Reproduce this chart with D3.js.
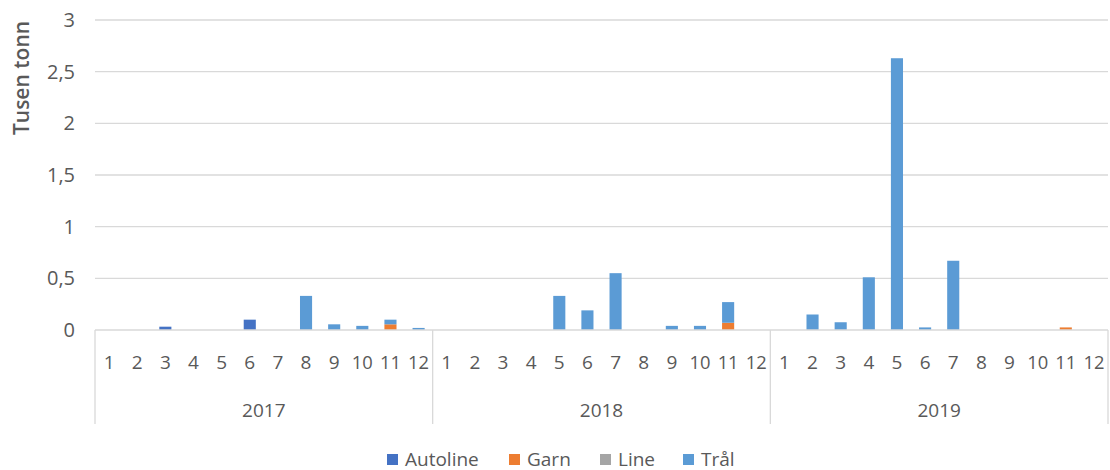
<!DOCTYPE html>
<html><head><meta charset="utf-8">
<script src="https://cdn.jsdelivr.net/npm/d3@7"></script>
<style>body{margin:0;background:#fff;} text{font-family:"Open Sans","Liberation Sans",sans-serif;}</style>
</head><body>
<svg id="c" width="1110" height="470"></svg>
<script>
const years = ["2017","2018","2019"];
const months = ["1","2","3","4","5","6","7","8","9","10","11","12"];
const seriesNames = ["Autoline","Garn","Line","Trål"];
const colors = ["#4472C4","#ED7D31","#A5A5A5","#5B9BD5"];
const autoline = [0,0,0.032,0,0,0.10,0,0,0,0,0,0, 0,0,0,0,0,0,0,0,0,0,0,0, 0,0,0,0,0,0,0,0,0,0,0,0];
const garn     = [0,0,0,0,0,0,0,0,0,0,0.055,0, 0,0,0,0,0,0,0,0,0,0,0.07,0, 0,0,0,0,0,0,0,0,0,0,0.025,0];
const line     = [0,0,0,0,0,0,0,0,0,0,0,0, 0,0,0,0,0,0,0,0,0,0,0,0, 0,0,0,0,0,0,0,0,0,0,0,0];
const tral     = [0,0,0,0,0,0,0,0.33,0.055,0.04,0.045,0.02, 0,0,0,0,0.33,0.19,0.55,0,0.04,0.04,0.20,0, 0,0.15,0.075,0.51,2.63,0.025,0.67,0,0,0,0,0];
const yTicks = [0,0.5,1,1.5,2,2.5,3];
const yTickLabels = ["0","0,5","1","1,5","2","2,5","3"];

(function(){
const svg = d3.select("#c");
const mL = 95, mR = 1108, mT = 20, mB = 330;
const keys = [];
years.forEach(yr => months.forEach(m => keys.push(yr + "-" + m)));
const data = keys.map((k, i) => ({key: k, Autoline: autoline[i], Garn: garn[i], Line: line[i], "Trål": tral[i]}));

const x = d3.scaleBand().domain(keys).range([mL, mR]).paddingInner(0.57).paddingOuter(0.285);
const xYear = d3.scaleBand().domain(years).range([mL, mR]);
const y = d3.scaleLinear().domain([0, 3]).range([mB, mT]);

svg.append("g").selectAll("line").data(yTicks.filter(d => d > 0)).join("line")
  .attr("x1", mL).attr("x2", mR).attr("y1", d => y(d)).attr("y2", d => y(d))
  .attr("stroke", "#d9d9d9").attr("stroke-width", 1.3);

svg.append("g").selectAll("text").data(yTicks).join("text")
  .attr("x", 75).attr("y", d => y(d)).attr("dy", "0.35em").attr("text-anchor", "end")
  .attr("font-size", 20).attr("fill", "#595959").text((d, i) => yTickLabels[i]);

svg.append("text").attr("transform", "translate(29,78) rotate(-90)")
  .attr("text-anchor", "middle").attr("font-size", 21).attr("font-weight", "600")
  .attr("fill", "#595959").text("Tusen tonn");

const stacked = d3.stack().keys(seriesNames)(data);
svg.append("g").selectAll("g").data(stacked).join("g")
  .attr("fill", (d, i) => colors[i])
  .selectAll("rect").data(d => d).join("rect")
  .attr("x", d => x(d.data.key)).attr("width", x.bandwidth())
  .attr("y", d => y(d[1])).attr("height", d => Math.max(0, y(d[0]) - y(d[1])));

svg.append("line").attr("x1", mL).attr("x2", mR).attr("y1", mB).attr("y2", mB)
  .attr("stroke", "#d9d9d9").attr("stroke-width", 1.3);

const seps = years.map(yr => xYear(yr)).concat([mR]);
svg.append("g").selectAll("line").data(seps).join("line")
  .attr("x1", d => d).attr("x2", d => d).attr("y1", mB).attr("y2", 424)
  .attr("stroke", "#d9d9d9").attr("stroke-width", 1.3);

svg.append("g").selectAll("text").data(keys).join("text")
  .attr("x", d => x(d) + x.bandwidth() / 2).attr("y", 369).attr("text-anchor", "middle")
  .attr("font-size", 19).attr("fill", "#595959")
  .each(function(d){ if (d.split("-")[1].length > 1) d3.select(this).attr("textLength", 21).attr("lengthAdjust", "spacingAndGlyphs"); })
  .text(d => d.split("-")[1]);

svg.append("g").selectAll("text").data(years).join("text")
  .attr("x", d => xYear(d) + xYear.bandwidth() / 2).attr("y", 417).attr("text-anchor", "middle")
  .attr("font-size", 19).attr("fill", "#595959").text(d => d);

const legendX = [387, 509, 600, 683];
const lg = svg.append("g").selectAll("g").data(seriesNames).join("g")
  .attr("transform", (d, i) => "translate(" + legendX[i] + ",459)");
lg.append("rect").attr("x", 0).attr("y", -5).attr("width", 11).attr("height", 11).attr("fill", (d, i) => colors[i]);
lg.append("text").attr("x", 18).attr("y", 0).attr("dy", "0.35em").attr("font-size", 19)
  .attr("fill", "#595959").text(d => d);
})();
</script>
</body></html>
